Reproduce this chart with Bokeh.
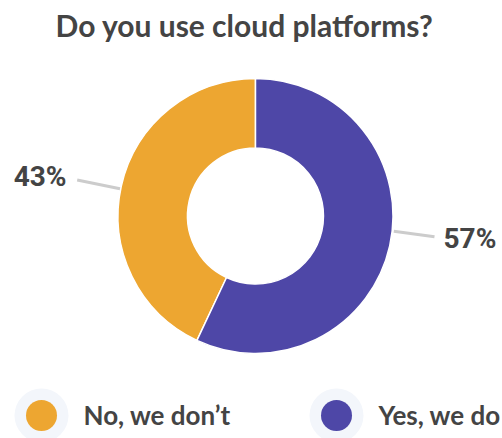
import math
from bokeh.plotting import figure
from bokeh.models import Range1d, Label, ColumnDataSource
from bokeh.embed import file_html
from bokeh.resources import INLINE

# ---- data ----
categories = ["No, we don\u2019t", "Yes, we do"]
shares = [43, 57]
colors = ["#EDA631", "#4E47A7"]
title_text = "Do you use cloud platforms?"

W, H = 502, 438
def X(px): return px
def Y(py): return H - py

p = figure(width=W, height=H, output_backend="svg", toolbar_location=None,
           x_range=Range1d(0, W), y_range=Range1d(0, H), min_border=0,
           outline_line_color=None)
p.axis.visible = False
p.grid.visible = False
p.background_fill_color = "white"
p.border_fill_color = "white"

cx, cy = X(255), Y(215.5)
r_out, r_in = 137.5, 68

# Yes goes clockwise from top; No fills the rest
total = sum(shares)
yes_frac = shares[1] / total
start_top = math.pi / 2
yes_end = start_top - 2 * math.pi * yes_frac
src = ColumnDataSource(dict(
    start=[yes_end, start_top],
    end=[start_top - 2 * math.pi, yes_end],
    color=[colors[0], colors[1]],
))
p.annular_wedge(x=cx, y=cy, inner_radius=r_in, outer_radius=r_out,
                start_angle="start", end_angle="end", direction="clock",
                fill_color="color", line_color="white", line_width=1.5, source=src)

# leader lines
p.line([X(76.7), X(119.5)], [Y(179.5), Y(188.3)], line_color="#cccccc", line_width=3)
p.line([X(393.3), X(434)], [Y(230.7), Y(236.3)], line_color="#cccccc", line_width=3)

lab_font = "Roboto"
p.add_layout(Label(x=X(66), y=Y(176), text=f"{shares[0]}%", text_align="right",
                   text_baseline="middle", text_font=lab_font, text_font_style="bold",
                   text_font_size="28px", text_color="#444444"))
p.add_layout(Label(x=X(443), y=Y(238), text=f"{shares[1]}%", text_align="left",
                   text_baseline="middle", text_font=lab_font, text_font_style="bold",
                   text_font_size="28px", text_color="#444444"))

# title
p.add_layout(Label(x=X(244), y=Y(24), text=title_text, text_align="center",
                   text_baseline="middle", text_font="Lato", text_font_style="bold",
                   text_font_size="30px", text_color="#444444"))

# legend
leg_x = [X(41), X(336)]
leg_y = [Y(415), Y(415)]
p.circle(x=leg_x, y=leg_y, radius=27, fill_color="#F3F6FB", line_color=None)
p.circle(x=leg_x, y=leg_y, radius=15.5, fill_color=colors, line_color=None)
for i, c in enumerate(categories):
    p.add_layout(Label(x=leg_x[i] + 42, y=leg_y[i] + 1, text=c, text_align="left",
                       text_baseline="middle", text_font="Lato", text_font_style="bold",
                       text_font_size="26px", text_color="#444444"))

open("out.html", "w").write(file_html(p, INLINE))
